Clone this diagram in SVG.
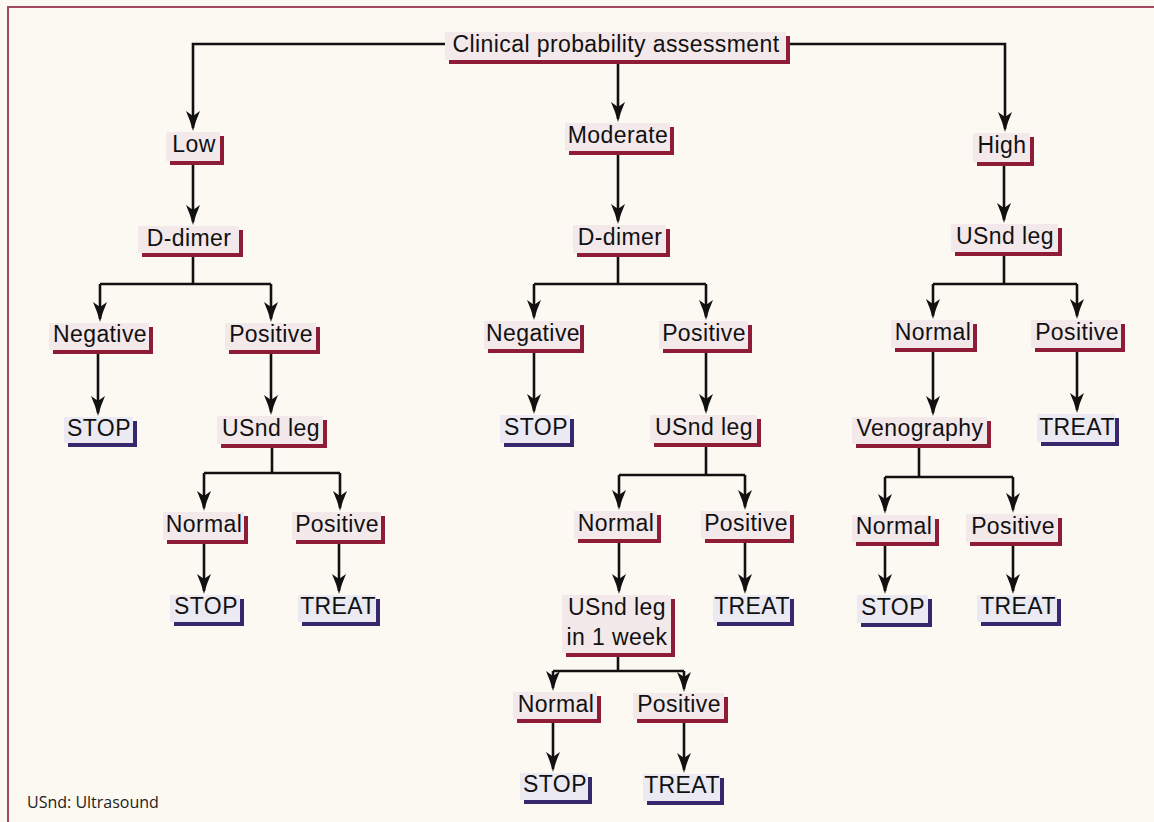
<svg xmlns="http://www.w3.org/2000/svg" width="1154" height="822" viewBox="0 0 1154 822">
<defs>
<style>
.bg{fill:#fcf9f2}
.sh{fill:#8e1c36}
.shb{fill:#35286c}
.bx{fill:#f3e8ea}
.bxb{fill:#ebe9f1}
.t{font-family:"Liberation Sans",Arial,Helvetica,sans-serif;font-size:23px;letter-spacing:0.4px;fill:#111;text-anchor:middle}
.c{fill:none;stroke:#111;stroke-width:2.6}
.fn{font-family:"Open Sans","Noto Sans",sans-serif;font-size:16px;fill:#222}
</style>
<marker id="ah" viewBox="-22 -8 26 16" markerWidth="26" markerHeight="16" refX="-3" refY="0" markerUnits="userSpaceOnUse" orient="auto" overflow="visible">
<path d="M0,0 Q-10,-2.5 -20,-7 L-15,0 L-20,7 Q-10,2.5 0,0 Z" fill="#111"/>
</marker>
</defs>
<rect class="bg" x="0" y="0" width="1154" height="822"/>
<path d="M8,822 V7 H1154" fill="none" stroke="#a3475c" stroke-width="2"/>

<g id="connectors">
<path class="c" d="M445,44 H193 V128" marker-end="url(#ah)"/>
<path class="c" d="M786,44 H1005 V129" marker-end="url(#ah)"/>
<path class="c" d="M618,60 V119" marker-end="url(#ah)"/>
<path class="c" d="M193,161 V222" marker-end="url(#ah)"/>
<path class="c" d="M618,151 V221" marker-end="url(#ah)"/>
<path class="c" d="M1004,162 V220" marker-end="url(#ah)"/>
<path class="c" d="M193,254 V284"/>
<path class="c" d="M100,284 H271"/>
<path class="c" d="M100,284 V319" marker-end="url(#ah)"/>
<path class="c" d="M271,284 V319" marker-end="url(#ah)"/>
<path class="c" d="M618,254 V284"/>
<path class="c" d="M534,284 H706"/>
<path class="c" d="M534,284 V317" marker-end="url(#ah)"/>
<path class="c" d="M706,284 V317" marker-end="url(#ah)"/>
<path class="c" d="M1004,252 V284"/>
<path class="c" d="M933,284 H1077"/>
<path class="c" d="M933,284 V316" marker-end="url(#ah)"/>
<path class="c" d="M1077,284 V316" marker-end="url(#ah)"/>
<path class="c" d="M98,350 V413" marker-end="url(#ah)"/>
<path class="c" d="M271,350 V412" marker-end="url(#ah)"/>
<path class="c" d="M534,349 V411" marker-end="url(#ah)"/>
<path class="c" d="M706,349 V411" marker-end="url(#ah)"/>
<path class="c" d="M933,348 V413" marker-end="url(#ah)"/>
<path class="c" d="M1077,348 V410" marker-end="url(#ah)"/>
<path class="c" d="M272,444 V473"/>
<path class="c" d="M204,473 H340"/>
<path class="c" d="M204,473 V508" marker-end="url(#ah)"/>
<path class="c" d="M340,473 V508" marker-end="url(#ah)"/>
<path class="c" d="M706,443 V475"/>
<path class="c" d="M619,475 H745"/>
<path class="c" d="M619,475 V507" marker-end="url(#ah)"/>
<path class="c" d="M745,475 V507" marker-end="url(#ah)"/>
<path class="c" d="M919,444 V477"/>
<path class="c" d="M885,477 H1013"/>
<path class="c" d="M885,477 V511" marker-end="url(#ah)"/>
<path class="c" d="M1013,477 V510" marker-end="url(#ah)"/>
<path class="c" d="M204,540 V591" marker-end="url(#ah)"/>
<path class="c" d="M339,540 V591" marker-end="url(#ah)"/>
<path class="c" d="M619,539 V591" marker-end="url(#ah)"/>
<path class="c" d="M745,539 V591" marker-end="url(#ah)"/>
<path class="c" d="M885,542 V591" marker-end="url(#ah)"/>
<path class="c" d="M1013,542 V591" marker-end="url(#ah)"/>
<path class="c" d="M618,653 V671"/>
<path class="c" d="M553,671 H684"/>
<path class="c" d="M553,671 V688" marker-end="url(#ah)"/>
<path class="c" d="M684,671 V689" marker-end="url(#ah)"/>
<path class="c" d="M553,719 V769" marker-end="url(#ah)"/>
<path class="c" d="M684,719 V770" marker-end="url(#ah)"/>
</g>

<g id="n-clinical"><rect class="sh" x="449" y="36" width="341" height="28"/><rect class="bx" x="445" y="32" width="341" height="28"/><text class="t" x="616" y="52">Clinical probability assessment</text></g>
<g id="n-low"><rect class="sh" x="170" y="136" width="54" height="29"/><rect class="bx" x="166" y="132" width="54" height="29"/><text class="t" x="194" y="152">Low</text></g>
<g id="n-moderate"><rect class="sh" x="569" y="127" width="105" height="28"/><rect class="bx" x="565" y="123" width="105" height="28"/><text class="t" x="618" y="143">Moderate</text></g>
<g id="n-high"><rect class="sh" x="977" y="137" width="57" height="29"/><rect class="bx" x="973" y="133" width="57" height="29"/><text class="t" x="1002" y="153">High</text></g>

<g id="n-ddimer-l"><rect class="sh" x="142" y="230" width="101" height="27"/><rect class="bx" x="138" y="226" width="101" height="27"/><text class="t" x="189" y="246">D-dimer</text></g>
<g id="n-ddimer-m"><rect class="sh" x="577" y="229" width="93" height="28"/><rect class="bx" x="573" y="225" width="93" height="28"/><text class="t" x="620" y="245">D-dimer</text></g>
<g id="n-usnd-r"><rect class="sh" x="955" y="228" width="107" height="28"/><rect class="bx" x="951" y="224" width="107" height="28"/><text class="t" x="1005" y="244">USnd leg</text></g>

<g id="n-neg-l"><rect class="sh" x="53" y="327" width="100" height="27"/><rect class="bx" x="49" y="323" width="100" height="27"/><text class="t" x="100" y="342">Negative</text></g>
<g id="n-pos-l"><rect class="sh" x="229" y="327" width="91" height="27"/><rect class="bx" x="225" y="323" width="91" height="27"/><text class="t" x="271" y="342">Positive</text></g>
<g id="n-neg-m"><rect class="sh" x="488" y="325" width="96" height="28"/><rect class="bx" x="484" y="321" width="96" height="28"/><text class="t" x="533" y="341">Negative</text></g>
<g id="n-pos-m"><rect class="sh" x="663" y="325" width="89" height="28"/><rect class="bx" x="659" y="321" width="89" height="28"/><text class="t" x="704" y="341">Positive</text></g>
<g id="n-norm-r"><rect class="sh" x="895" y="324" width="82" height="28"/><rect class="bx" x="891" y="320" width="82" height="28"/><text class="t" x="933" y="340">Normal</text></g>
<g id="n-pos-r"><rect class="sh" x="1035" y="324" width="90" height="28"/><rect class="bx" x="1031" y="320" width="90" height="28"/><text class="t" x="1077" y="340">Positive</text></g>

<g id="n-stop-l"><rect class="shb" x="68" y="421" width="69" height="26"/><rect class="bxb" x="64" y="417" width="69" height="26"/><text class="t" x="99" y="436">STOP</text></g>
<g id="n-usnd-l"><rect class="sh" x="221" y="420" width="106" height="28"/><rect class="bx" x="217" y="416" width="106" height="28"/><text class="t" x="271" y="436">USnd leg</text></g>
<g id="n-stop-m"><rect class="shb" x="504" y="419" width="70" height="28"/><rect class="bxb" x="500" y="415" width="70" height="28"/><text class="t" x="536" y="435">STOP</text></g>
<g id="n-usnd-m"><rect class="sh" x="654" y="419" width="107" height="28"/><rect class="bx" x="650" y="415" width="107" height="28"/><text class="t" x="704" y="435">USnd leg</text></g>
<g id="n-veno"><rect class="sh" x="856" y="421" width="135" height="27"/><rect class="bx" x="852" y="417" width="135" height="27"/><text class="t" x="920" y="436">Venography</text></g>
<g id="n-treat-r"><rect class="shb" x="1041" y="418" width="78" height="28"/><rect class="bxb" x="1037" y="414" width="78" height="28"/><text class="t" x="1077" y="435">TREAT</text></g>

<g id="n-norm-l2"><rect class="sh" x="167" y="516" width="81" height="28"/><rect class="bx" x="163" y="512" width="81" height="28"/><text class="t" x="204" y="532">Normal</text></g>
<g id="n-pos-l2"><rect class="sh" x="296" y="516" width="89" height="28"/><rect class="bx" x="292" y="512" width="89" height="28"/><text class="t" x="337" y="532">Positive</text></g>
<g id="n-norm-m2"><rect class="sh" x="578" y="515" width="83" height="28"/><rect class="bx" x="574" y="511" width="83" height="28"/><text class="t" x="616" y="531">Normal</text></g>
<g id="n-pos-m2"><rect class="sh" x="705" y="515" width="89" height="28"/><rect class="bx" x="701" y="511" width="89" height="28"/><text class="t" x="746" y="531">Positive</text></g>
<g id="n-norm-r2"><rect class="sh" x="856" y="519" width="83" height="27"/><rect class="bx" x="852" y="515" width="83" height="27"/><text class="t" x="894" y="534">Normal</text></g>
<g id="n-pos-r2"><rect class="sh" x="970" y="518" width="92" height="28"/><rect class="bx" x="966" y="514" width="92" height="28"/><text class="t" x="1013" y="534">Positive</text></g>

<g id="n-stop-l2"><rect class="shb" x="174" y="599" width="70" height="27"/><rect class="bxb" x="170" y="595" width="70" height="27"/><text class="t" x="206" y="614">STOP</text></g>
<g id="n-treat-l2"><rect class="shb" x="302" y="599" width="78" height="27"/><rect class="bxb" x="298" y="595" width="78" height="27"/><text class="t" x="338" y="614">TREAT</text></g>
<g id="n-usnd-week"><rect class="sh" x="566" y="599" width="109" height="58"/><rect class="bx" x="562" y="595" width="109" height="58"/><text class="t" x="617" y="615">USnd leg</text><text class="t" x="617" y="645">in 1 week</text></g>
<g id="n-treat-m"><rect class="shb" x="717" y="599" width="77" height="27"/><rect class="bxb" x="713" y="595" width="77" height="27"/><text class="t" x="752" y="614">TREAT</text></g>
<g id="n-stop-r"><rect class="shb" x="861" y="599" width="71" height="28"/><rect class="bxb" x="857" y="595" width="71" height="28"/><text class="t" x="893" y="615">STOP</text></g>
<g id="n-treat-r2"><rect class="shb" x="981" y="599" width="80" height="27"/><rect class="bxb" x="977" y="595" width="80" height="27"/><text class="t" x="1018" y="614">TREAT</text></g>

<g id="n-norm-m3"><rect class="sh" x="517" y="696" width="84" height="27"/><rect class="bx" x="513" y="692" width="84" height="27"/><text class="t" x="556" y="712">Normal</text></g>
<g id="n-pos-m3"><rect class="sh" x="637" y="697" width="91" height="26"/><rect class="bx" x="633" y="693" width="91" height="26"/><text class="t" x="679" y="712">Positive</text></g>
<g id="n-stop-m2"><rect class="shb" x="524" y="777" width="68" height="27"/><rect class="bxb" x="520" y="773" width="68" height="27"/><text class="t" x="555" y="792">STOP</text></g>
<g id="n-treat-m2"><rect class="shb" x="647" y="778" width="77" height="27"/><rect class="bxb" x="643" y="774" width="77" height="27"/><text class="t" x="682" y="793">TREAT</text></g>

<text class="fn" x="27" y="808">USnd: Ultrasound</text>
</svg>
